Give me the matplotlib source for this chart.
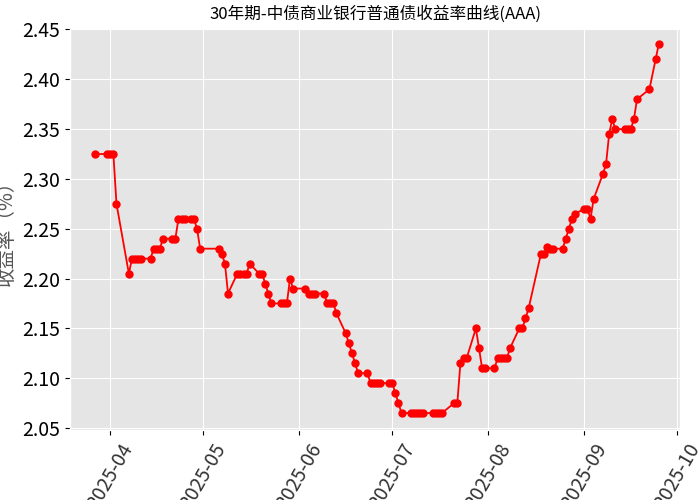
import matplotlib
matplotlib.use("Agg")
import matplotlib.pyplot as plt
import matplotlib.dates as mdates
import pandas as pd

plt.style.use("ggplot")
plt.rcParams['font.family'] = ['Noto Sans CJK SC', 'DejaVu Sans']

dates = [
    "2025-03-27", "2025-03-31", "2025-04-01", "2025-04-02", "2025-04-03", "2025-04-07",
    "2025-04-08", "2025-04-09", "2025-04-10", "2025-04-11", "2025-04-14", "2025-04-15",
    "2025-04-16", "2025-04-17", "2025-04-18", "2025-04-21", "2025-04-22", "2025-04-23",
    "2025-04-24", "2025-04-25", "2025-04-27", "2025-04-28", "2025-04-29", "2025-04-30",
    "2025-05-06", "2025-05-07", "2025-05-08", "2025-05-09", "2025-05-12", "2025-05-13",
    "2025-05-14", "2025-05-15", "2025-05-16", "2025-05-19", "2025-05-20", "2025-05-21",
    "2025-05-22", "2025-05-23", "2025-05-26", "2025-05-27", "2025-05-28", "2025-05-29",
    "2025-05-30", "2025-06-03", "2025-06-04", "2025-06-05", "2025-06-06", "2025-06-09",
    "2025-06-10", "2025-06-11", "2025-06-12", "2025-06-13", "2025-06-16", "2025-06-17",
    "2025-06-18", "2025-06-19", "2025-06-20", "2025-06-23", "2025-06-24", "2025-06-25",
    "2025-06-26", "2025-06-27", "2025-06-30", "2025-07-01", "2025-07-02", "2025-07-03",
    "2025-07-04", "2025-07-07", "2025-07-08", "2025-07-09", "2025-07-10", "2025-07-11",
    "2025-07-14", "2025-07-15", "2025-07-16", "2025-07-17", "2025-07-21", "2025-07-22",
    "2025-07-23", "2025-07-24", "2025-07-25", "2025-07-28", "2025-07-29", "2025-07-30",
    "2025-07-31", "2025-08-03", "2025-08-04", "2025-08-05", "2025-08-06", "2025-08-07",
    "2025-08-08", "2025-08-11", "2025-08-12", "2025-08-13", "2025-08-14", "2025-08-18",
    "2025-08-19", "2025-08-20", "2025-08-21", "2025-08-22", "2025-08-25", "2025-08-26",
    "2025-08-27", "2025-08-28", "2025-08-29", "2025-09-01", "2025-09-02", "2025-09-03",
    "2025-09-04", "2025-09-07", "2025-09-08", "2025-09-09", "2025-09-10", "2025-09-11",
    "2025-09-14", "2025-09-15", "2025-09-16", "2025-09-17", "2025-09-18", "2025-09-22",
    "2025-09-24", "2025-09-25",
]
yields = [
    2.325, 2.325, 2.325, 2.325, 2.275, 2.205,
    2.22, 2.22, 2.22, 2.22, 2.22, 2.23,
    2.23, 2.23, 2.24, 2.24, 2.24, 2.26,
    2.26, 2.26, 2.26, 2.26, 2.25, 2.23,
    2.23, 2.225, 2.215, 2.185, 2.205, 2.205,
    2.205, 2.205, 2.215, 2.205, 2.205, 2.195,
    2.185, 2.175, 2.175, 2.175, 2.175, 2.20,
    2.19, 2.19, 2.185, 2.185, 2.185, 2.185,
    2.175, 2.175, 2.175, 2.165, 2.145, 2.135,
    2.125, 2.115, 2.105, 2.105, 2.095, 2.095,
    2.095, 2.095, 2.095, 2.095, 2.085, 2.075,
    2.065, 2.065, 2.065, 2.065, 2.065, 2.065,
    2.065, 2.065, 2.065, 2.065, 2.075, 2.075,
    2.115, 2.12, 2.12, 2.15, 2.13, 2.11,
    2.11, 2.11, 2.12, 2.12, 2.12, 2.12,
    2.13, 2.15, 2.15, 2.16, 2.17, 2.225,
    2.225, 2.232, 2.23, 2.23, 2.23, 2.24,
    2.25, 2.26, 2.265, 2.27, 2.27, 2.26,
    2.28, 2.305, 2.315, 2.345, 2.36, 2.35,
    2.35, 2.35, 2.35, 2.36, 2.38, 2.39,
    2.42, 2.435,
]

x = pd.to_datetime(dates)

fig, ax = plt.subplots(figsize=(7, 5), dpi=100)
ax.plot(x, yields, color="red", marker="o", markersize=5, linewidth=1.3)
ax.set_title("30年期-中债商业银行普通债收益率曲线(AAA)", fontsize=12, color="black")
ax.set_ylabel("收益率（%）", fontsize=14)
ax.set_ylim(2.048, 2.452)
ax.set_xlim(pd.Timestamp("2025-03-19"), pd.Timestamp("2025-10-02"))
ax.xaxis.set_major_locator(mdates.MonthLocator())
ax.xaxis.set_major_formatter(mdates.DateFormatter("%Y-%m"))
ax.tick_params(axis="both", labelsize=14, colors="black")
ax.tick_params(axis="x", labelcolor="#333333")
plt.setp(ax.get_xticklabels(), rotation=60)
fig.subplots_adjust(left=0.1, right=0.972, top=0.945, bottom=0.14)
fig.savefig("out.png", dpi=100)
